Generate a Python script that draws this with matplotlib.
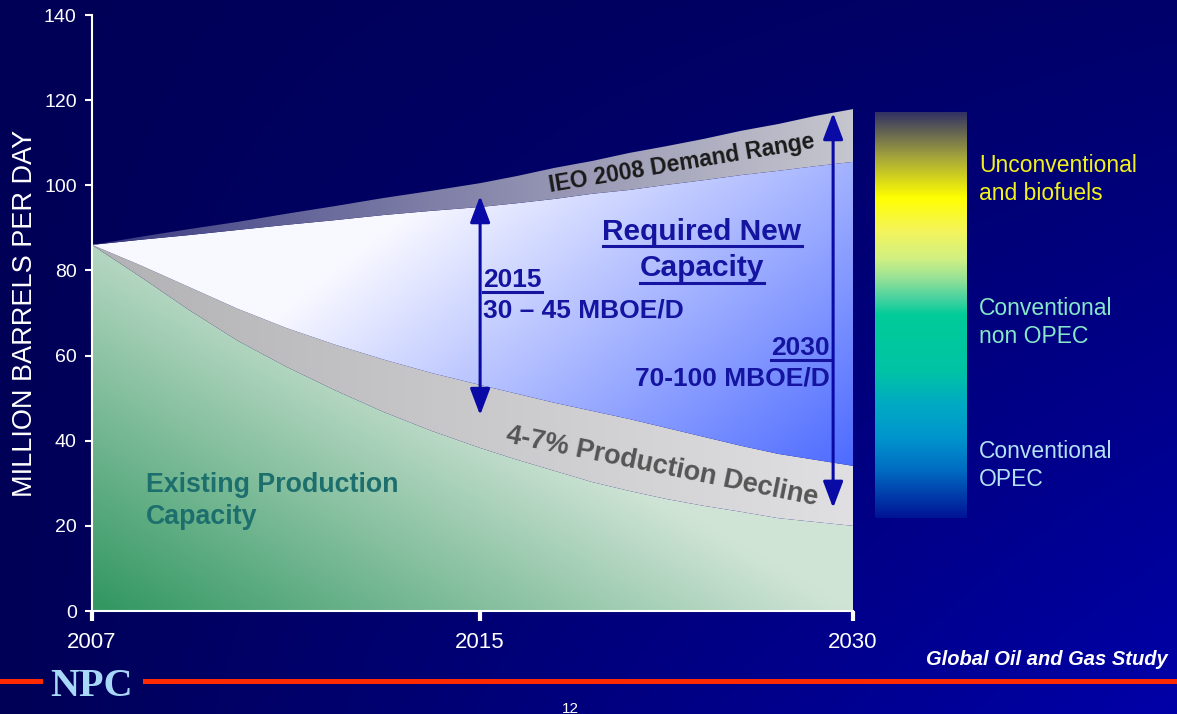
import numpy as np
import matplotlib.pyplot as plt
from matplotlib.colors import LinearSegmentedColormap
from matplotlib.lines import Line2D

W, H = 1177, 714

# labelled years and where they sit along the x axis
tick_years = [2007, 2015, 2030]
tick_pos = [0.0, 0.51, 1.0]
y_ticks = [0, 20, 40, 60, 80, 100, 120, 140]

# curves, million barrels per day
years = [2007, 2008, 2009, 2010, 2011, 2012, 2013, 2014, 2015,
         2016.5, 2018, 2019.5, 2021, 2022.5, 2024, 2025.5, 2027, 2028.5, 2030]
demand_high = [86.0, 87.9, 89.7, 91.4, 93.3, 95.1, 97.0, 98.7, 100.5,
               102.2, 104.1, 105.7, 107.6, 109.2, 110.9, 112.8, 114.4, 116.3, 117.9]
demand_low = [86.0, 87.2, 88.3, 89.5, 90.7, 91.8, 93.0, 94.0, 94.9,
              95.8, 96.8, 98.0, 98.9, 100.1, 101.2, 102.4, 103.4, 104.5, 105.5]
decline_top = [86.0, 81.2, 76.1, 71.0, 66.5, 62.6, 59.1, 55.9, 53.1,
               51.0, 48.9, 47.0, 45.1, 43.0, 40.9, 38.8, 36.9, 35.5, 34.1]
existing = [86.0, 78.5, 70.7, 63.5, 57.4, 51.9, 46.8, 42.3, 38.3,
            35.5, 32.9, 30.3, 28.2, 26.3, 24.7, 23.3, 21.8, 20.9, 20.0]

# required new capacity arrows
arrow_years = [2015, 2029.2]
arrow_low = [46.0, 24.2]
arrow_high = [97.5, 117.0]

legend_labels = ["Unconventional\nand biofuels", "Conventional\nnon OPEC", "Conventional\nOPEC"]
legend_colors = ["#f2f21a", "#86e8c8", "#b4e2f2"]

plt.rcParams['font.family'] = ['Liberation Sans', 'DejaVu Sans']


def fx(px):
    return px / W


def fy(py):
    return 1 - py / H


def to_pos(yr):
    return np.interp(yr, tick_years, tick_pos)


def lerp(c0, c1, t):
    c0 = np.array(c0) / 255.0
    c1 = np.array(c1) / 255.0
    t = np.clip(t, 0, 1)[..., None]
    return c0 + (c1 - c0) * t


fig = plt.figure(figsize=(W / 100, H / 100), dpi=100)

# navy backdrop, brighter towards the bottom right
bg = fig.add_axes([0, 0, 1, 1])
bx, by = np.meshgrid(np.linspace(0, 1, 300), np.linspace(0, 1, 200))
bg.imshow(lerp((0, 0, 86), (0, 0, 168), bx * (0.25 + 0.75 * by)),
          aspect='auto', extent=[0, 1, 0, 1], origin='upper')
bg.set_axis_off()

ax = fig.add_axes([fx(92), 1 - 611 / H, 761 / W, 596 / H])
ax.patch.set_alpha(0)

x = to_pos(years)
gx, gy = np.meshgrid(np.linspace(0, 1, 400), np.linspace(0, 1, 300))


def gradient_fill(lo, hi, img):
    poly = ax.fill_between(x, lo, hi, facecolor='none', edgecolor='none')
    im = ax.imshow(img, extent=[0, 1, 0, 140], origin='lower', aspect='auto',
                   interpolation='bilinear', zorder=1)
    im.set_clip_path(poly.get_paths()[0], transform=ax.transData)


gradient_fill(np.zeros(len(x)), existing,
              lerp((48, 150, 96), (208, 228, 214), gx + gy * 1.35))
gradient_fill(existing, decline_top,
              lerp((178, 178, 180), (224, 224, 226), gx))
gradient_fill(decline_top, demand_low,
              lerp((248, 248, 255), (78, 108, 255), gx - (gy - 0.25)))
gradient_fill(demand_low, demand_high,
              lerp((48, 48, 125), (198, 198, 206), gx ** 0.8))

for yr, lo, hi in zip(arrow_years, arrow_low, arrow_high):
    ax.annotate('', xy=(to_pos(yr), hi), xytext=(to_pos(yr), lo),
                arrowprops=dict(arrowstyle='<|-|>,head_length=0.9,head_width=0.34',
                                color='#0a0aa6', lw=2.2, mutation_scale=18,
                                shrinkA=0, shrinkB=0), zorder=4)

ax.set_xlim(0, 1)
ax.set_ylim(0, 140)
ax.set_xticks(tick_pos)
ax.set_xticklabels([str(y) for y in tick_years], fontsize=16, color='white')
ax.set_yticks(y_ticks)
ax.set_yticklabels([str(v) for v in y_ticks], fontsize=14, color='white')
ax.tick_params(axis='x', length=7, width=3, color='white', pad=8)
ax.tick_params(axis='y', length=5, width=1.5, color='white', pad=6)
for side in ['top', 'right']:
    ax.spines[side].set_visible(False)
for side in ['left', 'bottom']:
    ax.spines[side].set_color('white')
    ax.spines[side].set_linewidth(1.5)
    ax.spines[side].set_zorder(5)

fig.text(fx(25), fy(313), 'MILLION BARRELS PER DAY', rotation=90, ha='center',
         va='center', fontsize=19.5, color='white')

# band captions
fig.text(fx(682), fy(163), 'IEO 2008 Demand Range', rotation=9.5, rotation_mode='anchor',
         ha='center', va='center', fontsize=16.5, weight='bold', color='#1a1a1a')
fig.text(fx(662), fy(467), '4-7% Production Decline', rotation=-11.5, rotation_mode='anchor',
         ha='center', va='center', fontsize=19.5, weight='bold', color='#555555')

blue = '#1414a0'
underlined = []
t = fig.text(fx(702), fy(240), 'Required New', ha='center', va='baseline',
             fontsize=21.5, weight='bold', color=blue)
underlined.append((t, 246))
t = fig.text(fx(702), fy(276), 'Capacity', ha='center', va='baseline',
             fontsize=21.5, weight='bold', color=blue)
underlined.append((t, 283))
t = fig.text(fx(483), fy(287), '2015', ha='left', va='baseline',
             fontsize=19, weight='bold', color=blue)
underlined.append((t, 292))
fig.text(fx(483), fy(318), '30 \u2013 45 MBOE/D', ha='left', va='baseline',
         fontsize=19, weight='bold', color=blue)
t = fig.text(fx(830), fy(355), '2030', ha='right', va='baseline',
             fontsize=19, weight='bold', color=blue)
underlined.append((t, 360))
fig.text(fx(830), fy(386), '70-100 MBOE/D', ha='right', va='baseline',
         fontsize=19, weight='bold', color=blue)

fig.text(fx(146), fy(492), 'Existing Production', ha='left', va='baseline',
         fontsize=19.3, weight='bold', color='#1d6f6e')
fig.text(fx(146), fy(524), 'Capacity', ha='left', va='baseline',
         fontsize=19.3, weight='bold', color='#1d6f6e')

# supply colour scale on the right
stops = [(0.00, (50, 50, 100)), (0.11, (165, 165, 60)), (0.21, (255, 255, 0)),
         (0.29, (245, 245, 90)), (0.36, (210, 240, 130)), (0.41, (150, 225, 150)),
         (0.46, (70, 210, 160)), (0.50, (0, 204, 153)), (0.64, (0, 195, 165)),
         (0.72, (0, 170, 195)), (0.80, (0, 150, 205)), (0.88, (0, 110, 195)),
         (1.00, (0, 20, 150))]
scale = LinearSegmentedColormap.from_list('supply', [(p, np.array(c) / 255) for p, c in stops])
cax = fig.add_axes([fx(875), 1 - 518 / H, 92 / W, 406 / H])
cax.imshow(np.linspace(0, 1, 256)[:, None], aspect='auto', cmap=scale, origin='upper')
cax.set_axis_off()

for label, colour, base in zip(legend_labels, legend_colors, [172, 315, 458]):
    first, second = label.split('\n')
    fig.text(fx(979), fy(base), first, ha='left', va='baseline', fontsize=16.5, color=colour)
    fig.text(fx(979), fy(base + 28), second, ha='left', va='baseline', fontsize=16.5, color=colour)

# footer
red = '#ff2a00'
fig.add_artist(Line2D([0, fx(40)], [fy(681)] * 2, color=red, lw=3.6, transform=fig.transFigure))
fig.add_artist(Line2D([fx(145), 1], [fy(681)] * 2, color=red, lw=3.6, transform=fig.transFigure))
fig.text(fx(92), fy(696), 'NPC', ha='center', va='baseline', family='Liberation Serif',
         weight='bold', fontsize=29, color='#a8d8f8')
fig.text(fx(1168), fy(665), 'Global Oil and Gas Study', ha='right', va='baseline',
         fontsize=14.5, weight='bold', style='italic', color='white')
fig.text(fx(570), fy(702), '12', ha='center', va='top', fontsize=11, color='white')

fig.canvas.draw()
renderer = fig.canvas.get_renderer()
for txt, ypix in underlined:
    bb = txt.get_window_extent(renderer)
    fig.add_artist(Line2D([bb.x0 / W, bb.x1 / W], [fy(ypix)] * 2, color=blue, lw=2.2,
                          transform=fig.transFigure))

fig.savefig('out.png', dpi=100)
